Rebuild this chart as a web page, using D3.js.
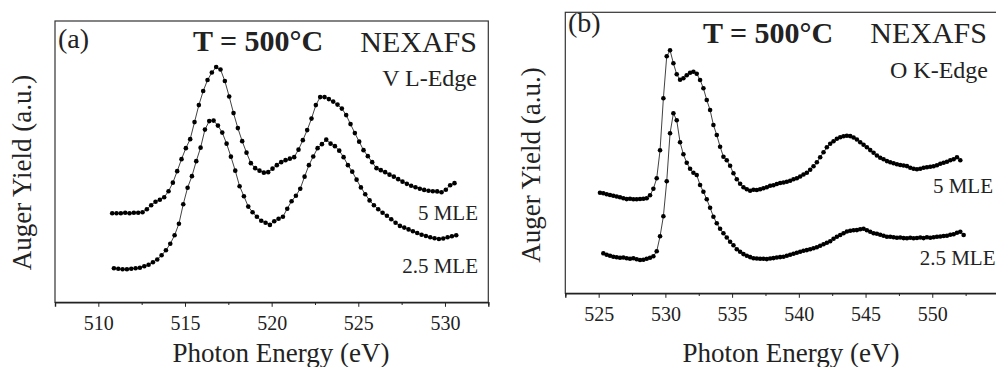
<!DOCTYPE html>
<html><head><meta charset="utf-8">
<script src="https://cdn.jsdelivr.net/npm/d3@7"></script>
<style>body{margin:0;background:#fff}svg{display:block}text{font-family:"Liberation Serif","Times New Roman",serif;fill:#222}</style>
</head><body><svg id="c" width="996" height="367"></svg>
<script>
// Panel (a): V L-edge, grid start/step (eV), yields in arbitrary units
const energyStartA5 = 510.8, energyStartA25 = 510.9, stepA = 0.25;
const yieldA5 = [89,89,89,89.5,89,89.5,89.5,90,93,97,
100.5,102.5,105,111,119.5,131,143,154,163,180,
197,211,222,229.5,235,232.5,221,205.6,189,174,
161,149.5,139,134,131.5,129.5,130,133.5,137,140,
142,143.5,145,152.5,162,172,183.5,197,205,205,
203,200.5,197.5,193.5,187,178,169,160.5,152,146,
140,134,132,130,127.5,125.5,123,120.5,118.3,116.5,
115,113.5,112.3,111.5,111,110.8,110,112.5,117,119];
const yieldA25 = [34,33.5,33,33,33.5,34,34.5,36,37.5,40,
42.8,47,52,58.5,67,78.5,98,114.5,126,141,
154.5,172.5,181,181.5,176.5,169.5,158.5,145.5,131.5,116,
106,95.6,90,85.5,81.5,79.5,77.3,81,83.5,85.5,
93.5,101,106.5,113.5,125.5,137,145.6,154,158,162.5,
158.5,156,151.5,145,137,130.5,122.5,114.8,108,101.8,
97,93,89.5,86.4,83,79.5,76.3,74.6,72.8,71,
69.2,67.5,66.2,65,64,63.2,63.8,65,66,67];
// Panel (b): O K-edge
const energyStartB5 = 525.1, energyStartB25 = 525.35, stepB = 0.25;
const yieldB5 = [100.6,100,99,98.3,97.5,96.8,96,95,94.2,94.5,
94,94,94.3,94.5,95,98,104.5,115,143,195,
237,243,230,219,213.5,215,218,220.5,221.5,219.5,
213.3,205,193.3,183.3,168.3,158.3,146.6,136.6,133,127.5,
120,114,109.5,106,104,102.6,103.5,103.3,104,105,
106,107.5,108,109.3,110.3,110.8,111.6,112.5,114,115,
116.8,118.8,120.6,123.5,127,131,136,141,146,149.5,
152,154.5,156,157,157.5,157.2,155.8,153.8,151,148.5,
146,143.2,140.5,137.8,135.6,134,132.2,131,130,129,
128.3,127.8,127.2,125.5,124.5,124,124.5,125.5,126,126.5,
127,128,129.5,130.5,131.5,133,134,136,133];
const yieldB25 = [40,38.5,37.5,36.6,36,35.5,35.8,35,34.5,35,
34,33.3,33.5,34.5,35.5,37,42,57,77,112,
160,180,173,151,139,130.5,124.5,120.5,118.3,108.3,
101.5,94,85.5,76.6,70,64.5,60,55.8,51.6,48,
44,41.5,39.2,37.5,36.2,35,34.8,34.5,34.5,34.2,
34.8,35.2,35.8,36.2,36.6,37.5,38.5,39.5,40.5,41.5,
42.5,43.2,44,45,46,47.5,49,50.5,52,54.5,
56.5,58.3,60,61.8,62.6,63,63.2,64,64.5,63,
61.5,60,59.5,58.5,57.5,56.6,56.5,56,55.5,55.8,
55.2,55,55.5,55,55.3,55.8,55.2,56,55.6,56,
56.5,56.8,57.3,57.5,58.5,59,60.5,61.5,58.3];
const ticksA = [510,515,520,525,530], minorA = [507.5,512.5,517.5,522.5,527.5,532.5];
const ticksB = [525,530,535,540,545,550], minorB = [522.5,527.5,532.5,537.5,542.5,547.5,552.5];
const domainA = [507.5,532.5], domainB = [522.5,555], yDomain = [0,281];

const svg = d3.select("#c");
function toPts(start, step, ys){ return ys.map((y,i)=>({e:start+i*step, y})); }

function panel(o){
  const x = d3.scaleLinear().domain(o.xd).range([o.l,o.r]);
  const y = d3.scaleLinear().domain(yDomain).range([o.b,o.t]);
  const g = svg.append("g");
  g.append("rect").attr("x",o.l).attr("y",o.t).attr("width",o.r-o.l).attr("height",o.b-o.t)
    .attr("fill","none").attr("stroke","#333").attr("stroke-width",1.2);
  const ax = g.append("g").attr("transform",`translate(0,${o.b})`)
    .call(d3.axisBottom(x).tickValues(o.ticks).tickSize(4.5).tickPadding(9.5).tickFormat(d3.format("d")));
  ax.select(".domain").attr("stroke","#222").attr("stroke-width",1.4);
  ax.selectAll(".tick line").attr("stroke","#222");
  ax.selectAll(".tick text").attr("font-size",20).attr("font-family","Liberation Serif").attr("fill","#222");
  const mx = g.append("g").attr("transform",`translate(0,${o.b})`)
    .call(d3.axisBottom(x).tickValues(o.minor).tickSize(2.7).tickFormat(""));
  mx.select(".domain").remove();
  mx.selectAll(".tick line").attr("stroke","#222");
  const line = d3.line().x(d=>x(d.e)).y(d=>y(d.y));
  o.series.forEach(s=>{
    g.append("path").attr("d",line(s)).attr("fill","none").attr("stroke","#111").attr("stroke-width",0.8);
    g.selectAll(null).data(s).enter().append("circle")
      .attr("cx",d=>x(d.e)).attr("cy",d=>y(d.y)).attr("r",2.3).attr("fill","#000");
  });
  const t = (txt,xx,yy,sz,anchor,bold)=>g.append("text").attr("x",xx).attr("y",yy)
    .attr("font-size",sz).attr("text-anchor",anchor||"start").attr("font-weight",bold?"bold":"normal").text(txt);
  o.texts.forEach(a=>t(...a));
  g.append("text").attr("transform",`translate(${o.ytx},${o.yty}) rotate(-90)`)
    .attr("text-anchor","middle").attr("font-size",27).text("Auger Yield (a.u.)");
  g.append("text").attr("x",o.xtx).attr("y",362).attr("text-anchor","middle").attr("font-size",27).text("Photon Energy (eV)");
}

panel({l:55,r:488.3,t:21,b:302.3,xd:domainA,ticks:ticksA,minor:minorA,
  series:[toPts(energyStartA5,stepA,yieldA5),toPts(energyStartA25,stepA,yieldA25)],
  ytx:31,yty:172.5,xtx:281,
  texts:[["(a)",58,48,28],["T = 500°C",193,51,30,"start",true],["NEXAFS",477,51.5,30,"end"],
    ["V L-Edge",477,86,24,"end"],["5 MLE",478,220,21,"end"],["2.5 MLE",478,272.5,21,"end"]]});
panel({l:565.3,r:999,t:12.3,b:293.3,xd:domainB,ticks:ticksB,minor:minorB,
  series:[toPts(energyStartB5,stepB,yieldB5),toPts(energyStartB25,stepB,yieldB25)],
  ytx:540,yty:165,xtx:791,
  texts:[["(b)",568,32,28],["T = 500°C",703,42.5,30,"start",true],["NEXAFS",987,43,30,"end"],
    ["O K-Edge",988,77.5,24,"end"],["5 MLE",993,193,21,"end"],["2.5 MLE",995.5,265,21,"end"]]});
</script></body></html>
